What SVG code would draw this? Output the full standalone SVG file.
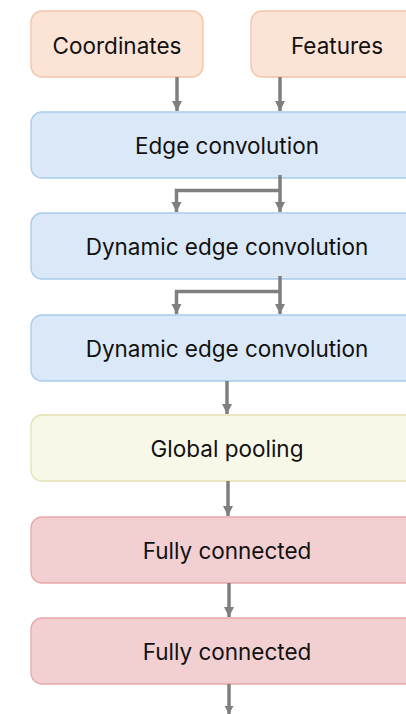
<svg xmlns="http://www.w3.org/2000/svg" width="406" height="714" viewBox="0 0 406 714">
<style>
.t{font-family:Inter,"Noto Sans","Liberation Sans",sans-serif;font-size:22.5px;fill:#111;text-anchor:middle;dominant-baseline:central}
.or{fill:#fbe3d6;stroke:#f4c4a6;stroke-width:1.3}
.bl{fill:#dae8f7;stroke:#a9cbea;stroke-width:1.3}
.ye{fill:#f8f8e9;stroke:#e5e1b4;stroke-width:1.3}
.rd{fill:#f2d0d1;stroke:#e6a9aa;stroke-width:1.3}
.c{fill:none;stroke:#7f7f7f;stroke-width:3.5}
</style>
<defs>
<marker id="ah" viewBox="0 0 10 10" refX="10" refY="5" markerWidth="3" markerHeight="3" orient="auto" markerUnits="strokeWidth">
<path d="M0,0L10,5L0,10z" fill="#7f7f7f"/>
</marker>
</defs>
<g id="coordinates"><rect class="or" x="31" y="11" width="172" height="66" rx="11"/><text class="t" x="117" y="45">Coordinates</text></g>
<g id="features"><rect class="or" x="251" y="11" width="180" height="66" rx="11"/><text class="t" x="337" y="45">Features</text></g>
<g id="edgeconv"><rect class="bl" x="31" y="112" width="392" height="66" rx="11"/><text class="t" x="227" y="145">Edge convolution</text></g>
<g id="dyn1"><rect class="bl" x="31" y="213" width="392" height="66" rx="11"/><text class="t" x="227" y="246">Dynamic edge convolution</text></g>
<g id="dyn2"><rect class="bl" x="31" y="315" width="392" height="66" rx="11"/><text class="t" x="227" y="348">Dynamic edge convolution</text></g>
<g id="pool"><rect class="ye" x="31" y="415" width="392" height="66" rx="11"/><text class="t" x="227" y="448">Global pooling</text></g>
<g id="fc1"><rect class="rd" x="31" y="517" width="392" height="66" rx="11"/><text class="t" x="227" y="550">Fully connected</text></g>
<g id="fc2"><rect class="rd" x="31" y="618" width="392" height="66" rx="11"/><text class="t" x="227" y="651">Fully connected</text></g>
<g id="connectors">
<path class="c" d="M177,77V111" marker-end="url(#ah)"/>
<path class="c" d="M280,77V111" marker-end="url(#ah)"/>
<path class="c" d="M280,175V212" marker-end="url(#ah)"/>
<path class="c" d="M280,190.5H176.5V212" marker-end="url(#ah)"/>
<path class="c" d="M280,276V314" marker-end="url(#ah)"/>
<path class="c" d="M280,291.5H176.5V314" marker-end="url(#ah)"/>
<path class="c" d="M227,381V414" marker-end="url(#ah)"/>
<path class="c" d="M228,481V516" marker-end="url(#ah)"/>
<path class="c" d="M229,583V617" marker-end="url(#ah)"/>
<path class="c" d="M229,684V714"/>
<path d="M224.5,706L233.5,706L229,714z" fill="#7f7f7f"/>
</g>
</svg>
